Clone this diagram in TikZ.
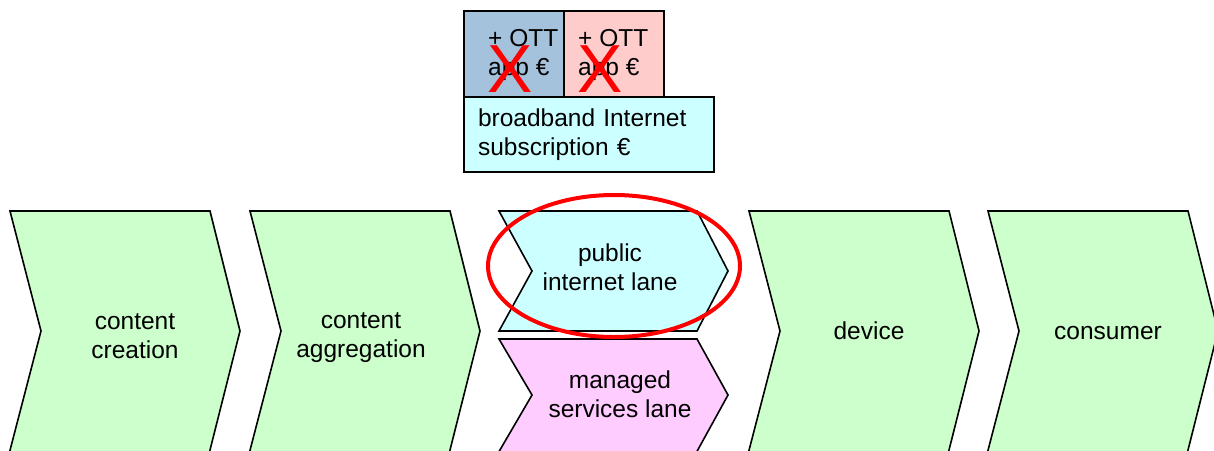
\documentclass[tikz,border=0pt]{standalone}
\usepackage{fontspec}
\setmainfont{Liberation Sans}
\usepackage{xcolor}
\usetikzlibrary{positioning,calc}

\definecolor{stagegreen}{HTML}{CCFFCC}
\definecolor{lanecyan}{HTML}{CCFFFF}
\definecolor{lanepink}{HTML}{FFCCFF}
\definecolor{ottblue}{HTML}{A4C2DC}
\definecolor{ottpink}{HTML}{FFCCCC}

\tikzset{
  stagebox/.style={draw=black, line width=1.6pt, line join=miter, fill=stagegreen},
  paybox/.style={draw=black, line width=1.6pt, minimum width=100pt, minimum height=86pt},
  lbl/.style={align=center, inner sep=0pt, font=\fontsize{24.5}{29}\selectfont},
  crossmark/.style={text=red, inner sep=0pt, font=\fontsize{68}{68}\selectfont}
}

\begin{document}
\begin{tikzpicture}[x=1pt, y=-1pt]
  \useasboundingbox (0,0) rectangle (1214,450);

  % value chain stages (bottom runs past the page edge)
  \foreach \x/\name in {10/create, 250/aggr, 749/dev, 988/cons} {
    \draw[stagebox] (\x,211) -- ++(200,0) -- ++(30,120) -- ++(-32,127)
      -- ++(-200,0) -- ++(33,-127) -- cycle;
  }

  % split stage: public internet lane and managed services lane
  \draw[stagebox, fill=lanecyan] (499,211) -- ++(198,0) -- ++(31,60) -- ++(-31,60)
    -- ++(-198,0) -- ++(33,-60) -- cycle;
  \draw[stagebox, fill=lanepink] (499,339) -- ++(198,0) -- ++(31,56) -- ++(-33,60)
    -- ++(-198,0) -- ++(35,-60) -- cycle;

  % stage labels
  \node[lbl] (create) at (135,336) {content\\creation};
  \node[lbl] (aggr) at (361,338) {content\\aggregation};
  \node[lbl] (publane) at (610,267) {public\\internet lane};
  \node[lbl] (mgdlane) at (620,394) {managed\\services lane};
  \node[lbl] (dev) at (869,331) {device};
  \node[lbl] (cons) at (1108,333) {consumer};

  % payments on top
  \node[paybox, fill=ottblue] (ottA) at (514,54) {};
  \node[paybox, fill=ottpink] (ottB) at (614,54) {};
  \node[lbl, align=left, anchor=west] (ottAtxt) at (488,55) {+ OTT\\app €};
  \node[lbl, align=left, anchor=west] (ottBtxt) at (578,55) {+ OTT\\app €};
  \node[draw=black, line width=1.6pt, fill=lanecyan, text width=222pt, inner xsep=14pt,
        minimum height=75pt, align=left, font=\fontsize{24.5}{29}\selectfont]
        (bbsub) at (589,134.5) {broadband Internet\\subscription €};

  % crossed out OTT payments
  \node[crossmark, anchor=base] (crossA) at (510,92) {X};
  \node[crossmark, anchor=base] (crossB) at (600,92) {X};

  % highlight ring
  \draw[red, line width=4pt] (614,266) ellipse [x radius=126, y radius=71];
\end{tikzpicture}
\end{document}
